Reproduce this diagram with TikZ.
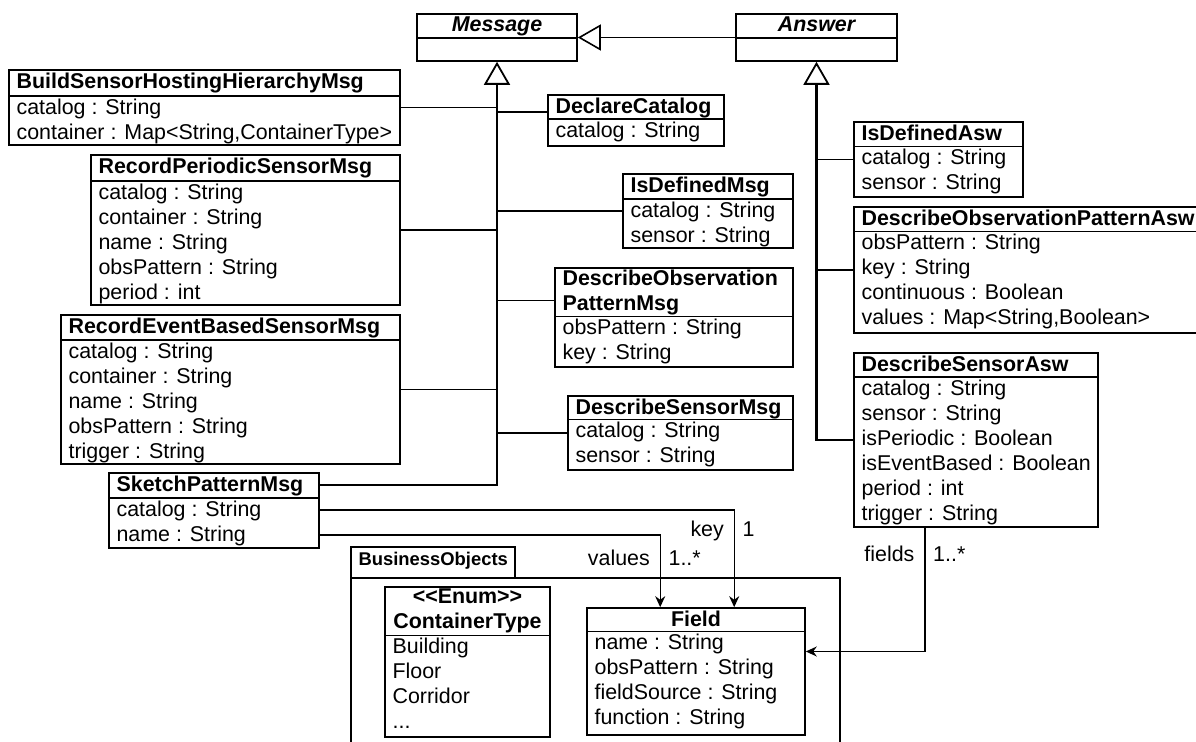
\documentclass[tikz,border=0pt]{standalone}
\usepackage{fontspec}
\setmainfont{Liberation Sans}[Ligatures=TeXOff]
\usetikzlibrary{arrows.meta,fit,calc}

\tikzset{
  cls/.style={draw, line width=0.8pt, inner sep=0pt},
  ttl/.style={anchor=base west, font=\bfseries, inner sep=0pt, at={([shift={(8,19)}]#1.north west)}},
  attr/.style={anchor=base west, inner sep=0pt},
  lbl/.style={inner sep=0pt},
  sub/.style={line width=0.8pt},
  inh/.style={line width=1.3pt, -{Triangle[open, length=11.5pt, width=13pt, line width=0.9pt]}},
  assoc/.style={line width=0.7pt, -{Stealth[length=5.5pt, width=5pt]}}
}

% name, top left, bottom right, title height, title, attributes
\newcommand{\umlclass}[7][]{%
  \node[cls, fit={#3 #4}] (#2) {};
  \draw[line width=0.8pt] ([shift={(0,#5)}]#2.north west) -- ([shift={(0,#5)}]#2.north east);
  \node[ttl=#2, #1] {#6};
  \foreach \a [count=\i] in {#7}
    \node[attr] at ([shift={(8,#5+25*\i-7)}]#2.north west) {\a};
}

\begin{document}
\fontsize{10.7pt}{12.5pt}\selectfont
\begin{tikzpicture}[x=0.5pt, y=-0.5pt]

    \useasboundingbox (0,0) rectangle (1196,742);

    % abstract classes
    \umlclass[anchor=base, at={([shift={(0,18)}]msg.north)}, font=\bfseries\itshape]{msg}{(417,14)}{(577,61)}{25}{Message}{}
    \umlclass[anchor=base, at={([shift={(0,18)}]asw.north)}, font=\bfseries\itshape]{asw}{(736,14)}{(897,61)}{25}{Answer}{}

    % messages
    \umlclass{bsh}{(9,70)}{(400,145)}{27}{BuildSensorHostingHierarchyMsg}{catalog : String, {container : Map<String,ContainerType>}}
    \umlclass{rps}{(91,155)}{(400,305)}{27}{RecordPeriodicSensorMsg}{catalog : String, container : String, name : String, obsPattern : String, period : int}
    \umlclass{rebs}{(61,315)}{(400,464)}{26}{RecordEventBasedSensorMsg}{catalog : String, container : String, name : String, obsPattern : String, trigger : String}
    \umlclass{skm}{(109,473)}{(319,548)}{26}{SketchPatternMsg}{catalog : String, name : String}
    \umlclass{dc}{(548,95)}{(724,146)}{25}{DeclareCatalog}{catalog : String}
    \umlclass{idm}{(623,174)}{(793,248)}{26}{IsDefinedMsg}{catalog : String, sensor : String}
    \umlclass[align=left, anchor=west, at={([shift={(8,25)}]dopm.north west)}]{dopm}{(555,268)}{(793,367)}{49.5}{DescribeObservation\\PatternMsg}{obsPattern : String, key : String}
    \umlclass{dsm}{(568,396)}{(793,470)}{24.5}{DescribeSensorMsg}{catalog : String, sensor : String}

    % answers
    \umlclass{ida}{(854,122)}{(1023,197)}{25.5}{IsDefinedAsw}{catalog : String, sensor : String}
    \umlclass{dopa}{(854,207)}{(1215,333)}{25.5}{DescribeObservationPatternAsw}{obsPattern : String, key : String, continuous : Boolean, {values : Map<String,Boolean>}}
    \umlclass{dsa}{(854,353)}{(1098,527)}{25}{DescribeSensorAsw}{catalog : String, sensor : String, isPeriodic : Boolean, isEventBased : Boolean, period : int, trigger : String}

    % package
    \node[cls, fit={(351,547) (515,578)}] (pkgtab) {};
    \node[ttl=pkgtab, font=\fontsize{9.2pt}{11pt}\selectfont\bfseries] {BusinessObjects};
    \node[cls, fit={(351,578) (840,760)}] (pkg) {};

    \umlclass[align=center, anchor=center, at={([shift={(0,25)}]ct.north)}]{ct}{(385,587)}{(550,737)}{49.5}{<<Enum>>\\ContainerType}{Building, Floor, Corridor, .{}.{}.}
    \umlclass[anchor=base, at={([shift={(0,19)}]fld.north)}]{fld}{(587,608)}{(805,735)}{24.5}{Field}{name : String, obsPattern : String, fieldSource : String, function : String}

    % generalisations
    \draw[sub, -{Triangle[open, length=11.5pt, width=13pt]}] (asw.west) -- (msg.east);
    \draw[inh] ([shift={(0,13)}]skm.north east) -| (msg.south);
    \draw[sub] (bsh.east) -- (bsh.east -| msg.south);
    \draw[sub] (rps.east) -- (rps.east -| msg.south);
    \draw[sub] (rebs.east) -- (rebs.east -| msg.south);
    \draw[sub] ([yshift=4.2pt]dc.west) -- ([yshift=4.2pt]dc.west -| msg.south);
    \draw[sub] (idm.west) -- (idm.west -| msg.south);
    \draw[sub] ([yshift=8.4pt]dopm.west) -- ([yshift=8.4pt]dopm.west -| msg.south);
    \draw[sub] (dsm.west) -- (dsm.west -| msg.south);

    \draw[inh] (dsa.west) -| (asw.south);
    \draw[sub] (ida.west) -- (ida.west -| asw.south);
    \draw[sub] (dopa.west) -- (dopa.west -| asw.south);

    % associations
    \coordinate (keyin) at ([xshift=74pt]fld.north west);
    \coordinate (valin) at ([xshift=37pt]fld.north west);
    \coordinate (fsrc) at ([xshift=35.8pt]dsa.south west);
    \coordinate (fin) at ([yshift=10pt]fld.east);

    \draw[assoc] ([shift={(0,38)}]skm.north east) -| (keyin);
    \draw[assoc] ([shift={(0,63)}]skm.north east) -| (valin);
    \draw[assoc] (fsrc) |- (fin);

    \node[lbl, anchor=base east] (keyl) at ([shift={(-10,-71)}]keyin) {key};
    \node[lbl, anchor=base west] (keym) at ([shift={(8,-71)}]keyin) {1};
    \node[lbl, anchor=base east] (vall) at ([shift={(-10,-42)}]valin) {values};
    \node[lbl, anchor=base west] (valm) at ([shift={(8,-42)}]valin) {1..*};
    \node[lbl, anchor=base east] (fldl) at ([shift={(-10,34)}]fsrc) {fields};
    \node[lbl, anchor=base west] (fldm) at ([shift={(8,34)}]fsrc) {1..*};

\end{tikzpicture}
\end{document}
